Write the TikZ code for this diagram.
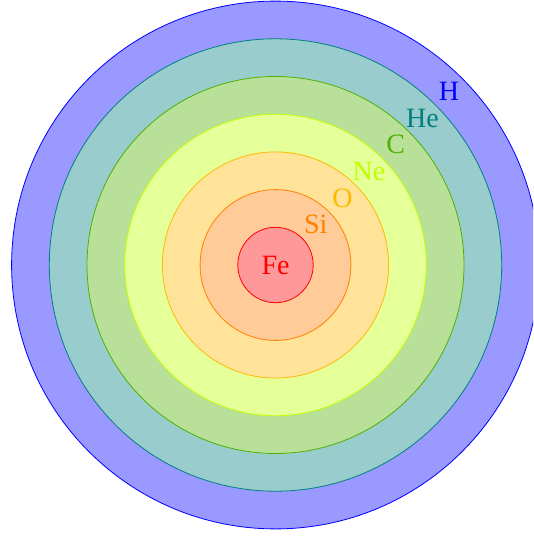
\documentclass[tikz,border=0pt]{standalone}
\usepackage{fontspec}
\setmainfont{Liberation Serif}
\usetikzlibrary{calc}
\definecolor{cgreen}{RGB}{80,177,0}
\definecolor{oyellow}{RGB}{255,185,0}
\begin{document}
\begin{tikzpicture}[x=1pt,y=-1pt,
  shell/.style={draw=#1,fill=#1!40,line width=0.8pt},
  lbl/.style={text=#1,font=\fontsize{28}{32}\selectfont,inner sep=0pt}]
\useasboundingbox (0,0) rectangle (533,537);
\coordinate (c) at (275.5,265);
\begin{scope}
\clip (0,0) rectangle (533,537);
\foreach \k/\col in {7/blue,6/teal,5/cgreen,4/lime,3/oyellow,2/orange,1/red}{
  \draw[shell=\col] (c) circle[radius=37.7*\k];
}
\end{scope}
\node[lbl=red] (fe) at ($(c)+(0,0)$) {Fe};
\foreach \k/\col/\t in {2/orange/Si,3/oyellow/O,4/lime/Ne,5/cgreen/C,6/teal/He,7/blue/H}{
  \node[lbl=\col] (l\k) at ($(c)+(-45:{37.7*\k-18.5})$) {\t};
}
\end{tikzpicture}
\end{document}
